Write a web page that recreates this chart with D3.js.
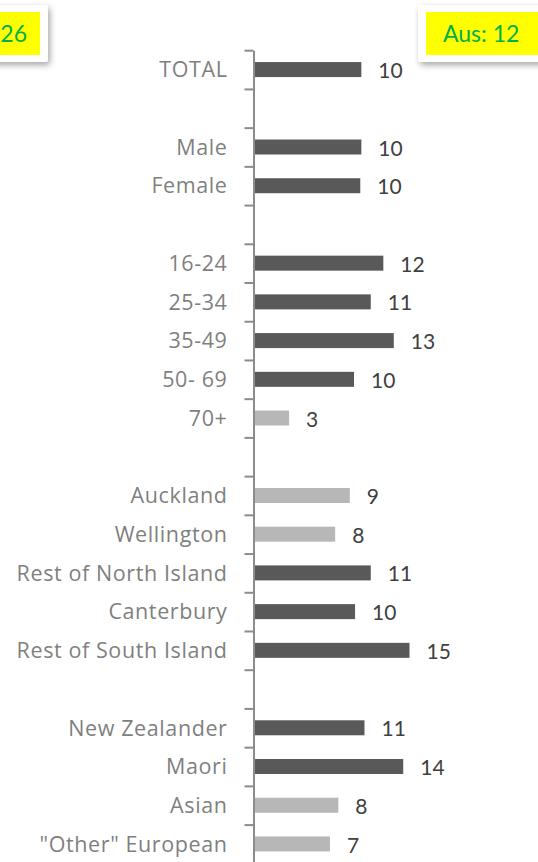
<!DOCTYPE html>
<html>

<head>
  <meta charset="utf-8">
  <title>Chart</title>
  <script src="https://cdn.jsdelivr.net/npm/d3@7"></script>
  <style>
    body { margin: 0; background: #fff; }
    svg { display: block; font-family: Lato, "Open Sans", sans-serif; }
  </style>
</head>

<body>
  <script>
    // categories (empty string = gap row in the chart)
    const categories = ["TOTAL", "", "Male", "Female", "", "16-24", "25-34", "35-49", "50- 69", "70+", "",
      "Auckland", "Wellington", "Rest of North Island", "Canterbury", "Rest of South Island", "",
      "New Zealander", "Maori", "Asian", "\"Other\" European"];
    // values (null = gap row)
    const values = [10.3, null, 10.3, 10.2, null, 12.4, 11.2, 13.4, 9.6, 3.4, null,
      9.2, 7.8, 11.2, 9.7, 14.9, null,
      10.6, 14.3, 8.1, 7.3];
    // lighter bars = lower than total
    const lower = [false, null, false, false, null, false, false, false, false, true, null,
      true, true, false, false, false, null,
      false, false, true, true];
    // callout boxes
    const boxLeftText = "26";
    const boxRightText = "Aus: 12";

    const W = 538, H = 862;
    const axisX = 253.5;

    const svg = d3.select("body").append("svg")
      .attr("width", W)
      .attr("height", H);

    const defs = svg.append("defs");
    const f = defs.append("filter").attr("id", "shadow")
      .attr("x", "-20%").attr("y", "-30%").attr("width", "150%").attr("height", "180%");
    f.append("feDropShadow")
      .attr("dx", 2).attr("dy", 3).attr("stdDeviation", 3)
      .attr("flood-color", "#000").attr("flood-opacity", 0.35);

    const data = categories.map((c, i) => ({ i: i, name: c, value: values[i], lower: lower[i] }));

    // band scale for rows
    const y = d3.scaleBand()
      .domain(d3.range(categories.length))
      .range([50.2, 863.3])
      .paddingInner(0.61)
      .paddingOuter(0.305);

    // boundary ticks
    const yEdge = d3.scaleLinear()
      .domain([0, categories.length])
      .range([50.2, 863.3]);

    const x = d3.scaleLinear()
      .domain([0, 15])
      .range([axisX, axisX + 15 * 10.47]);

    // bars
    svg.append("g").selectAll("rect")
      .data(data.filter(d => d.value != null))
      .enter()
      .append("rect")
      .attr("x", x(0))
      .attr("y", d => y(d.i) + (y.bandwidth() - 15) / 2)
      .attr("width", d => x(d.value) - x(0))
      .attr("height", 15)
      .attr("fill", d => d.lower ? "#b7b7b7" : "#595959");

    // data labels
    const fmt = d3.format(".0f");
    svg.append("g").selectAll("text")
      .data(data.filter(d => d.value != null))
      .enter()
      .append("text")
      .attr("x", d => x(d.value) + 17)
      .attr("y", d => y(d.i) + y.bandwidth() / 2 + 1)
      .attr("dy", "0.36em")
      .attr("font-size", 21)
      .attr("fill", "#404040")
      .text(d => fmt(d.value));

    // axis with ticks between categories
    const axis = svg.append("g")
      .attr("transform", "translate(" + axisX + ",0)")
      .call(d3.axisLeft(yEdge)
        .tickValues(d3.range(categories.length + 1))
        .tickSize(9)
        .tickSizeOuter(0)
        .tickFormat(""));
    axis.selectAll("path, line").attr("stroke", "#8c8c8c").attr("stroke-width", 2);

    // category labels
    const lab = svg.append("g")
      .attr("transform", "translate(" + axisX + ",0)")
      .call(d3.axisLeft(y)
        .tickSize(0)
        .tickPadding(26)
        .tickFormat(i => categories[i]));
    lab.select(".domain").remove();
    lab.selectAll("text")
      .attr("font-family", "'Open Sans', sans-serif")
      .attr("font-size", 21.5)
      .attr("letter-spacing", 0.6)
      .attr("fill", "#7f7f7f")
      .attr("dy", "0.36em");

    // callout boxes
    const boxes = svg.append("g");
    boxes.append("rect")
      .attr("x", -20).attr("y", 5).attr("width", 68).attr("height", 57)
      .attr("fill", "#fff").attr("rx", 3)
      .attr("filter", "url(#shadow)");
    boxes.append("rect")
      .attr("x", -20).attr("y", 12).attr("width", 60).attr("height", 43)
      .attr("fill", "#ffff00");
    boxes.append("text")
      .attr("x", 27).attr("y", 42)
      .attr("text-anchor", "end")
      .attr("font-size", 23)
      .attr("fill", "#00b050")
      .text(boxLeftText);

    boxes.append("rect")
      .attr("x", 418).attr("y", 5).attr("width", 140).attr("height", 57)
      .attr("fill", "#fff").attr("rx", 3)
      .attr("filter", "url(#shadow)");
    boxes.append("rect")
      .attr("x", 426).attr("y", 12).attr("width", 130).attr("height", 43)
      .attr("fill", "#ffff00");
    boxes.append("text")
      .attr("x", 443).attr("y", 42)
      .attr("font-size", 23)
      .attr("fill", "#00b050")
      .text(boxRightText);
  </script>
</body>

</html>
